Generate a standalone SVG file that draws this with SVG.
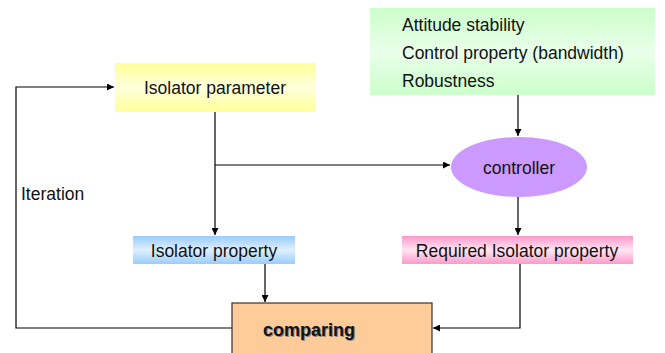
<svg xmlns="http://www.w3.org/2000/svg" width="665" height="353" viewBox="0 0 665 353">
<defs>
<linearGradient id="gY" x1="0" y1="0" x2="0" y2="1"><stop offset="0" stop-color="#ffff99"/><stop offset="0.5" stop-color="#ffffdd"/><stop offset="1" stop-color="#ffff99"/></linearGradient>
<linearGradient id="gG" x1="0" y1="0" x2="0" y2="1"><stop offset="0" stop-color="#ccffcc"/><stop offset="0.5" stop-color="#eaffea"/><stop offset="1" stop-color="#ccffcc"/></linearGradient>
<linearGradient id="gB" x1="0" y1="0" x2="0" y2="1"><stop offset="0" stop-color="#99ccff"/><stop offset="0.5" stop-color="#e0f0ff"/><stop offset="1" stop-color="#99ccff"/></linearGradient>
<linearGradient id="gP" x1="0" y1="0" x2="0" y2="1"><stop offset="0" stop-color="#ff99cc"/><stop offset="0.5" stop-color="#ffe6f2"/><stop offset="1" stop-color="#ff99cc"/></linearGradient>
<marker id="ah" viewBox="0 0 10 10" refX="10" refY="5" markerWidth="7" markerHeight="7" markerUnits="userSpaceOnUse" orient="auto"><path d="M0,0 L10,5 L0,10 z" fill="#000"/></marker>
</defs>
<style>
text{font-family:"Liberation Sans",Arial,sans-serif;font-size:17.5px;fill:#111}
.c{text-anchor:middle}
.ln{fill:none;stroke:#000;stroke-width:1.2}
.ar{marker-end:url(#ah)}
</style>
<g id="connectors">
<polyline class="ln ar" points="232,328 16,328 16,87 114,87"/>
<line class="ln ar" x1="215" y1="112" x2="215" y2="235"/>
<polyline class="ln ar" points="215,165 450,165"/>
<line class="ln ar" x1="518" y1="95" x2="518" y2="136"/>
<line class="ln ar" x1="518" y1="197" x2="518" y2="235"/>
<line class="ln ar" x1="265" y1="264" x2="265" y2="302"/>
<polyline class="ln ar" points="520,264 520,328 433,328"/>
</g>
<g id="isolator-parameter">
<rect x="115" y="63" width="201" height="49" fill="url(#gY)"/>
<text class="c" x="215" y="94">Isolator parameter</text>
</g>
<g id="requirements">
<rect x="370" y="8" width="285" height="87" fill="url(#gG)"/>
<text x="402" y="31">Attitude stability</text>
<text x="402" y="59">Control property (bandwidth)</text>
<text x="402" y="87">Robustness</text>
</g>
<g id="controller">
<ellipse cx="519" cy="167" rx="68" ry="30" fill="#cc99ff"/>
<text class="c" x="519" y="174">controller</text>
</g>
<g id="isolator-property">
<rect x="133" y="236" width="162" height="28" fill="url(#gB)"/>
<text class="c" x="214" y="257">Isolator property</text>
</g>
<g id="required-isolator-property">
<rect x="402" y="236" width="231" height="28" fill="url(#gP)"/>
<text class="c" x="517" y="257">Required Isolator property</text>
</g>
<g id="comparing">
<rect x="232" y="303" width="200" height="60" fill="#ffcc99" stroke="#333" stroke-width="1.2"/>
<text x="263" y="336" style="font-weight:bold;font-size:18px;fill:#888" dx="1" dy="1">comparing</text>
<text x="263" y="336" style="font-weight:bold;font-size:18px">comparing</text>
</g>
<text x="21" y="200">Iteration</text>
</svg>
